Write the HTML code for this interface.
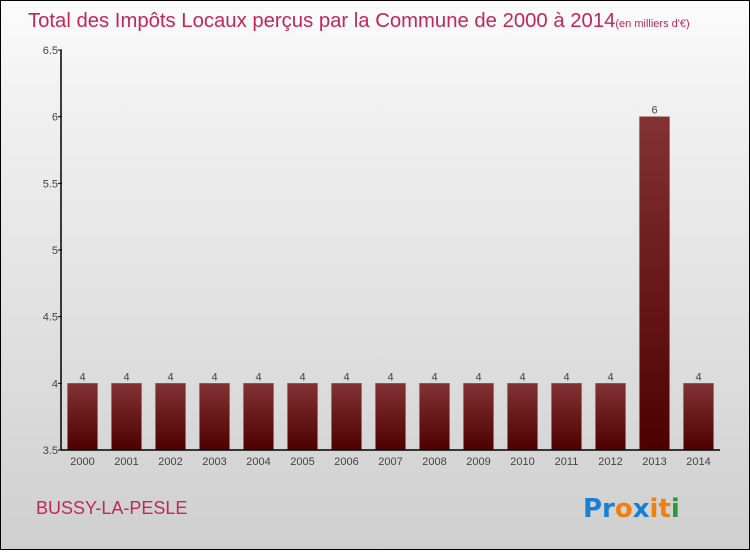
<!DOCTYPE html>
<html><head><meta charset="utf-8"><style>
html,body{margin:0;padding:0}
body{width:750px;height:550px;overflow:hidden;font-family:"Liberation Sans",sans-serif}
#wrap{position:absolute;left:0;top:0;width:748px;height:548px;border:1px solid #000;background:linear-gradient(#fbfbfb,#f0f0f0 20%,#cfcfcf)}
</style></head><body>
<div id="wrap">
<svg id="chart" width="748" height="548">
<defs><linearGradient id="bg" x1="0" y1="0" x2="0" y2="1"><stop offset="0" stop-color="#843134"/><stop offset="1" stop-color="#4e0000"/></linearGradient></defs>
<text x="27" y="26" font-size="20.3" fill="#c0285a">Total des Impôts Locaux perçus par la Commune de 2000 à 2014<tspan font-size="11">(en milliers d'€)</tspan></text>
<text x="35" y="513" font-size="18" fill="#c0285a">BUSSY-LA-PESLE</text>
<g font-size="26" font-weight="bold" font-family="'DejaVu Sans',sans-serif">
<text x="582" y="516"><tspan fill="#1a7fd4">Pr</tspan><tspan fill="#f07f10">o</tspan><tspan fill="#1a7fd4">x</tspan><tspan fill="#f07f10">i</tspan><tspan fill="#f07f10">t</tspan><tspan fill="#2a9a3a">i</tspan></text></g>
<g id="plot"></g>
</svg></div>
<script>
const categories=["2000","2001","2002","2003","2004","2005","2006","2007","2008","2009","2010","2011","2012","2013","2014"];
const values=[4,4,4,4,4,4,4,4,4,4,4,4,4,6,4];
const yTicks=[3.5,4,4.5,5,5.5,6,6.5];
const yTickLabels=["3.5","4","4.5","5","5.5","6","6.5"];
(function(){
const ns="http://www.w3.org/2000/svg";
const g=document.getElementById('plot');
const yMin=3.5,yMax=6.5,pTop=49,pBot=449,x0=60,x1=719,step=44,first=81.5,bw=30;
const y=v=>pBot-(v-yMin)/(yMax-yMin)*(pBot-pTop);
const xc=i=>first+i*step;
function mk(t,a){const e=document.createElementNS(ns,t);for(const k in a)e.setAttribute(k,a[k]);g.appendChild(e);return e;}
categories.forEach((c,i)=>{
 const r=mk('rect',{x:xc(i)-bw/2,y:y(values[i]),width:bw,height:pBot-y(values[i]),fill:'url(#bg)',stroke:'#a06060','stroke-width':0.6});
 
 
 const v=mk('text',{x:xc(i),y:y(values[i])-3,'font-size':11,fill:'#444','text-anchor':'middle'});v.textContent=values[i];
 
 
 const l=mk('text',{x:xc(i),y:pBot+15,'font-size':11,fill:'#444','text-anchor':'middle'});l.textContent=c;
 
 
});
yTicks.forEach((t,i)=>{
 mk('line',{x1:x0-3,x2:x0+1,y1:y(t),y2:y(t),stroke:'#000'});
 const l=mk('text',{x:x0-3,y:y(t)+4,'font-size':11,fill:'#444','text-anchor':'end'});l.textContent=yTickLabels[i];
 
 
});
const ya=mk('line',{x1:x0,x2:x0,y1:pTop,y2:pBot,stroke:'#000','stroke-width':1.5});


const xa=mk('line',{x1:x0,x2:x1,y1:pBot,y2:pBot,stroke:'#000','stroke-width':1.5});


})();
</script>
</body></html>
